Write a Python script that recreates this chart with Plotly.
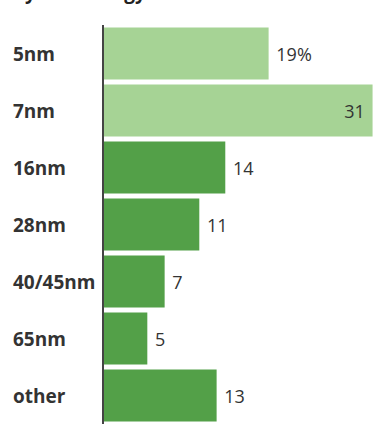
import plotly.graph_objects as go

categories = ["5nm", "7nm", "16nm", "28nm", "40/45nm", "65nm", "other"]
values = [19, 31, 14, 11, 7, 5, 13]
labels = ["19%", "31", "14", "11", "7", "5", "13"]
highlight = [True, True, False, False, False, False, False]

LIGHT = "#a6d395"
DARK = "#53a048"
colors = [LIGHT if h else DARK for h in highlight]

W, H = 373, 427
ML, MR, MT, MB = 104, 0, 25, 3
plot_w = W - ML - MR
xmax = 31.05

texts = []
positions = []
for v, lab in zip(values, labels):
    if v >= xmax * 0.95:
        texts.append(lab + " ")
        positions.append("inside")
    else:
        texts.append(" " + lab)
        positions.append("outside")

fig = go.Figure()
fig.add_trace(go.Bar(
    y=categories,
    x=values,
    orientation="h",
    marker=dict(color=colors, line=dict(width=0)),
    text=texts,
    textposition=positions,
    insidetextanchor="end",
    constraintext="none",
    textfont=dict(family="Open Sans", size=18, color="#333333"),
    insidetextfont=dict(family="Open Sans", size=18, color="#333333"),
    outsidetextfont=dict(family="Open Sans", size=18, color="#333333"),
    cliponaxis=False,
    hoverinfo="skip",
))

for c in categories:
    fig.add_annotation(
        x=-(ML - 11) / plot_w, xref="paper", xanchor="left",
        y=c, yref="y", yanchor="middle",
        text="<b>" + c + "</b>", showarrow=False,
        font=dict(family="Open Sans", size=19, color="#333333"),
    )

fig.add_annotation(
    x=-(ML - 11) / plot_w, xref="paper", xanchor="left",
    y=1 + (MT - 1) / (H - MT - MB), yref="paper", yanchor="bottom",
    yshift=-6,
    text="<b>by technology</b>", showarrow=False,
    font=dict(family="Open Sans", size=19, color="#222222"),
)

fig.update_layout(
    width=W, height=H,
    margin=dict(l=ML, r=MR, t=MT, b=MB, pad=0),
    paper_bgcolor="white", plot_bgcolor="white",
    showlegend=False,
    bargap=0.09,
    xaxis=dict(range=[0, xmax], visible=False, fixedrange=True),
    yaxis=dict(
        autorange="reversed", showticklabels=False, ticks="",
        showgrid=False, zeroline=False,
        showline=True, linecolor="#444444", linewidth=2,
        fixedrange=True,
    ),
)

fig.write_html("out.html", config={"displayModeBar": False})
